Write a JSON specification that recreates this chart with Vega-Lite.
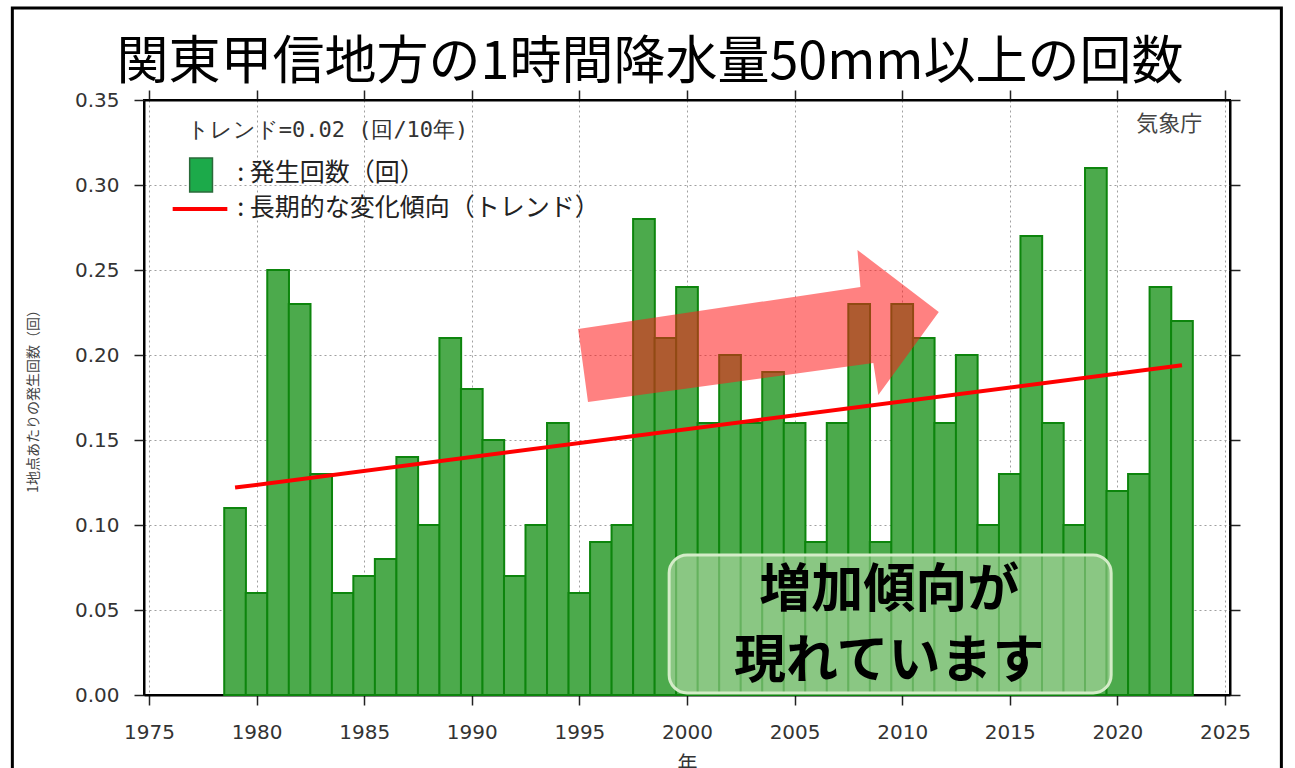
{
  "$schema": "https://vega.github.io/schema/vega-lite/v6.json",
  "width": 1086,
  "height": 595,
  "autosize": {"type": "none"},
  "padding": {"left": 144, "top": 100, "right": 65, "bottom": 73},
  "background": "white",
  "config": {
    "view": {"stroke": "black", "strokeWidth": 2},
    "axis": {
      "labelFont": "DejaVu Sans",
      "labelFontSize": 20,
      "labelColor": "#333333",
      "tickColor": "#222222",
      "tickSize": 10,
      "tickWidth": 1.5,
      "domainColor": "black",
      "domainWidth": 2,
      "gridColor": "#a0a0a0",
      "gridDash": [2, 3],
      "gridWidth": 1,
      "titleFont": "Noto Sans CJK JP",
      "titleFontWeight": "normal",
      "titleColor": "#444444"
    }
  },
  "title": {
    "text": "関東甲信地方の1時間降水量50mm以上の回数",
    "font": "Noto Sans CJK JP",
    "fontSize": 52,
    "fontWeight": "normal",
    "color": "black",
    "anchor": "middle",
    "dx": -37,
    "baseline": "alphabetic",
    "offset": -124
  },
  "datasets": {
    "bars": [
      {"year": 1979, "count": 0.11}, {"year": 1980, "count": 0.06}, {"year": 1981, "count": 0.25},
      {"year": 1982, "count": 0.23}, {"year": 1983, "count": 0.13}, {"year": 1984, "count": 0.06},
      {"year": 1985, "count": 0.07}, {"year": 1986, "count": 0.08}, {"year": 1987, "count": 0.14},
      {"year": 1988, "count": 0.10}, {"year": 1989, "count": 0.21}, {"year": 1990, "count": 0.18},
      {"year": 1991, "count": 0.15}, {"year": 1992, "count": 0.07}, {"year": 1993, "count": 0.10},
      {"year": 1994, "count": 0.16}, {"year": 1995, "count": 0.06}, {"year": 1996, "count": 0.09},
      {"year": 1997, "count": 0.10}, {"year": 1998, "count": 0.28}, {"year": 1999, "count": 0.21},
      {"year": 2000, "count": 0.24}, {"year": 2001, "count": 0.16}, {"year": 2002, "count": 0.20},
      {"year": 2003, "count": 0.16}, {"year": 2004, "count": 0.19}, {"year": 2005, "count": 0.16},
      {"year": 2006, "count": 0.09}, {"year": 2007, "count": 0.16}, {"year": 2008, "count": 0.23},
      {"year": 2009, "count": 0.09}, {"year": 2010, "count": 0.23}, {"year": 2011, "count": 0.21},
      {"year": 2012, "count": 0.16}, {"year": 2013, "count": 0.20}, {"year": 2014, "count": 0.10},
      {"year": 2015, "count": 0.13}, {"year": 2016, "count": 0.27}, {"year": 2017, "count": 0.16},
      {"year": 2018, "count": 0.10}, {"year": 2019, "count": 0.31}, {"year": 2020, "count": 0.12},
      {"year": 2021, "count": 0.13}, {"year": 2022, "count": 0.24}, {"year": 2023, "count": 0.22}
    ],
    "trend": [{"year": 1979, "value": 0.122}, {"year": 2023, "value": 0.194}],
    "arrow": [
      {"ord": 1, "x": 1994.94, "y": 0.2153},
      {"ord": 2, "x": 2008.06, "y": 0.2400},
      {"ord": 3, "x": 2007.92, "y": 0.2618},
      {"ord": 4, "x": 2011.70, "y": 0.2253},
      {"ord": 5, "x": 2008.89, "y": 0.1765},
      {"ord": 6, "x": 2008.66, "y": 0.1953},
      {"ord": 7, "x": 1995.40, "y": 0.1724}
    ],
    "box": [{"x1": 1999.17, "x2": 2019.71, "y1": 0.0824, "y2": 0.0012}],
    "boxText": [
      {"x": 2009.4, "y": 0.0612, "label": "増加傾向が"},
      {"x": 2009.4, "y": 0.0194, "label": "現れています"}
    ],
    "legendText": [
      {"x": 1979.1, "y": 0.3071, "label": ": 発生回数（回）"},
      {"x": 1979.1, "y": 0.2865, "label": ": 長期的な変化傾向（トレンド）"}
    ],
    "trendNote": [{"x": 1976.75, "y": 0.3324, "label": "トレンド=0.02 (回/10年)"}],
    "credit": [{"x": 2023.94, "y": 0.3359, "label": "気象庁"}],
    "legendBar": [{"x1": 1976.89, "x2": 1977.95, "y1": 0.3159, "y2": 0.2959}],
    "legendLine": [{"x1": 1976.1, "x2": 1978.64, "y": 0.2859}],
    "frame": [{"x1": 1968.65, "x2": 2027.62, "y1": 0.4041, "y2": -0.06}]
  },
  "layer": [
    {
      "data": {"name": "bars"},
      "mark": {"type": "bar", "width": 21.72, "fill": "#4caa4c", "stroke": "#0d850d", "strokeWidth": 2},
      "encoding": {
        "x": {
          "field": "year", "type": "quantitative",
          "scale": {"domain": [1975, 2025], "nice": false, "zero": false},
          "axis": {
            "values": [1975, 1980, 1985, 1990, 1995, 2000, 2005, 2010, 2015, 2020, 2025],
            "format": "d", "grid": true, "labelPadding": 17,
            "title": "年", "titleFontSize": 20, "titlePadding": 12, "titleColor": "#333333"
          }
        },
        "y": {
          "field": "count", "type": "quantitative",
          "scale": {"domain": [0, 0.35], "nice": false, "zero": true},
          "axis": {
            "values": [0, 0.05, 0.1, 0.15, 0.2, 0.25, 0.3, 0.35],
            "format": ".2f", "grid": true, "labelPadding": 15,
            "title": "1地点あたりの発生回数（回）", "titleFontSize": 14, "titlePadding": 34
          }
        }
      }
    },
    {
      "data": {"name": "trend"},
      "mark": {"type": "line", "color": "#ff0000", "strokeWidth": 4},
      "encoding": {
        "x": {
          "field": "year", "type": "quantitative",
          "scale": {"domain": [1975, 2025], "nice": false, "zero": false},
          "axis": {"orient": "top", "labels": false, "title": null, "grid": false,
                   "values": [1975, 1980, 1985, 1990, 1995, 2000, 2005, 2010, 2015, 2020, 2025]}
        },
        "y": {
          "field": "value", "type": "quantitative",
          "scale": {"domain": [0, 0.35], "nice": false, "zero": true},
          "axis": {"orient": "right", "labels": false, "title": null, "grid": false,
                   "values": [0, 0.05, 0.1, 0.15, 0.2, 0.25, 0.3, 0.35]}
        }
      }
    },
    {
      "data": {"name": "arrow"},
      "mark": {"type": "line", "interpolate": "linear-closed", "fill": "#ff1a1a", "fillOpacity": 0.55, "strokeWidth": 0, "stroke": null},
      "encoding": {
        "x": {"field": "x", "type": "quantitative", "scale": {"domain": [1975, 2025], "nice": false, "zero": false}, "axis": null},
        "y": {"field": "y", "type": "quantitative", "scale": {"domain": [0, 0.35], "nice": false, "zero": true}, "axis": null},
        "order": {"field": "ord", "type": "quantitative"}
      }
    },
    {
      "data": {"name": "box"},
      "mark": {"type": "rect", "cornerRadius": 18, "fill": "#e0f0d0", "fillOpacity": 0.42, "stroke": "#d4ecc8", "strokeWidth": 3},
      "encoding": {
        "x": {"field": "x1", "type": "quantitative", "scale": {"domain": [1975, 2025], "nice": false, "zero": false}, "axis": null},
        "x2": {"field": "x2"},
        "y": {"field": "y1", "type": "quantitative", "scale": {"domain": [0, 0.35], "nice": false, "zero": true}, "axis": null},
        "y2": {"field": "y2"}
      }
    },
    {
      "data": {"name": "boxText"},
      "mark": {"type": "text", "font": "Noto Sans CJK JP", "fontSize": 52, "fontWeight": "bold", "color": "black", "align": "center", "baseline": "middle"},
      "encoding": {
        "x": {"field": "x", "type": "quantitative", "scale": {"domain": [1975, 2025], "nice": false, "zero": false}, "axis": null},
        "y": {"field": "y", "type": "quantitative", "scale": {"domain": [0, 0.35], "nice": false, "zero": true}, "axis": null},
        "text": {"field": "label"}
      }
    },
    {
      "data": {"name": "legendText"},
      "mark": {"type": "text", "font": "Noto Sans CJK JP", "fontSize": 25, "color": "#222222", "align": "left", "baseline": "middle"},
      "encoding": {
        "x": {"field": "x", "type": "quantitative", "scale": {"domain": [1975, 2025], "nice": false, "zero": false}, "axis": null},
        "y": {"field": "y", "type": "quantitative", "scale": {"domain": [0, 0.35], "nice": false, "zero": true}, "axis": null},
        "text": {"field": "label"}
      }
    },
    {
      "data": {"name": "trendNote"},
      "mark": {"type": "text", "font": "DejaVu Sans Mono", "fontSize": 22, "color": "#333333", "align": "left", "baseline": "middle"},
      "encoding": {
        "x": {"field": "x", "type": "quantitative", "scale": {"domain": [1975, 2025], "nice": false, "zero": false}, "axis": null},
        "y": {"field": "y", "type": "quantitative", "scale": {"domain": [0, 0.35], "nice": false, "zero": true}, "axis": null},
        "text": {"field": "label"}
      }
    },
    {
      "data": {"name": "credit"},
      "mark": {"type": "text", "font": "Noto Sans CJK JP", "fontSize": 22, "color": "#444444", "align": "right", "baseline": "middle"},
      "encoding": {
        "x": {"field": "x", "type": "quantitative", "scale": {"domain": [1975, 2025], "nice": false, "zero": false}, "axis": null},
        "y": {"field": "y", "type": "quantitative", "scale": {"domain": [0, 0.35], "nice": false, "zero": true}, "axis": null},
        "text": {"field": "label"}
      }
    },
    {
      "data": {"name": "legendBar"},
      "mark": {"type": "rect", "fill": "#1caa4a", "stroke": "#2a6a3a", "strokeWidth": 1.5},
      "encoding": {
        "x": {"field": "x1", "type": "quantitative", "scale": {"domain": [1975, 2025], "nice": false, "zero": false}, "axis": null},
        "x2": {"field": "x2"},
        "y": {"field": "y1", "type": "quantitative", "scale": {"domain": [0, 0.35], "nice": false, "zero": true}, "axis": null},
        "y2": {"field": "y2"}
      }
    },
    {
      "data": {"name": "legendLine"},
      "mark": {"type": "rule", "color": "#ff0000", "strokeWidth": 4},
      "encoding": {
        "x": {"field": "x1", "type": "quantitative", "scale": {"domain": [1975, 2025], "nice": false, "zero": false}, "axis": null},
        "x2": {"field": "x2"},
        "y": {"field": "y", "type": "quantitative", "scale": {"domain": [0, 0.35], "nice": false, "zero": true}, "axis": null}
      }
    },
    {
      "data": {"name": "frame"},
      "mark": {"type": "rect", "fill": null, "fillOpacity": 0, "stroke": "black", "strokeWidth": 3, "clip": false},
      "encoding": {
        "x": {"field": "x1", "type": "quantitative", "scale": {"domain": [1975, 2025], "nice": false, "zero": false}, "axis": null},
        "x2": {"field": "x2"},
        "y": {"field": "y1", "type": "quantitative", "scale": {"domain": [0, 0.35], "nice": false, "zero": true}, "axis": null},
        "y2": {"field": "y2"}
      }
    }
  ],
  "resolve": {"axis": {"x": "independent", "y": "independent"}}
}
